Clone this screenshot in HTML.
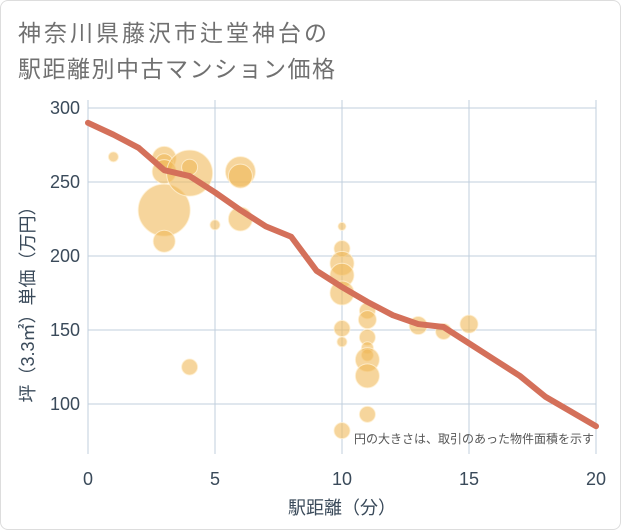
<!DOCTYPE html>
<html><head><meta charset="utf-8"><style>
body{margin:0;background:#fff;font-family:"Liberation Sans","Noto Sans CJK JP",sans-serif;}
#wrap{position:relative;width:619px;height:528px;border:1px solid #ddd;border-radius:8px;overflow:hidden;background:#fff}
.t{position:absolute;left:17px;font-size:23px;color:#707070;letter-spacing:2px}
</style></head><body>
<div id="wrap">
<div class="t" style="top:13px;letter-spacing:3px">神奈川県藤沢市辻堂神台の</div>
<div class="t" style="top:49px;letter-spacing:1.5px">駅距離別中古マンション価格</div>
<svg id="svg" width="621" height="530" style="position:absolute;left:-1px;top:-1px"></svg>
</div>
<script>
const xTicks=[0,5,10,15,20];
const yTicks=[100,150,200,250,300];
const bubX=[1,3,3,3,3,3,4,4,4,5,6,6,6,10,10,10,10,10,10,10,10,11,11,11,11,11,11,11,11,13,14,15];
const bubY=[267,266,263,257,231,210,256,260,125,221,257,254,225,220,205,195,187,175,151,142,82,163,157,145,138,133,130,119,93,153,149,154];
const bubR=[5,12,9,12,26,11,23,8,8,5,15,12,12,4,8,12,12,12,8,5,8,8,9,8,6,6,12,12,8,9,8,9];
const lineX=[0,1,2,3,4,5,6,7,8,9,10,11,12,13,14,15,16,17,18,19,20];
const lineY=[290,282,273,258,254,243,231,220,213,190,179,169,160,154,152,141,130,119,105,95,85];
const X=v=>88+v*25.4, Y=v=>108+(300-v)*1.48;
const svg=document.getElementById('svg'),NS='http://www.w3.org/2000/svg';
function mk(t,a,p){const e=document.createElementNS(NS,t);for(const k in a)e.setAttribute(k,a[k]);(p||svg).appendChild(e);return e;}
xTicks.forEach(v=>{const l=mk('line',{x1:X(v),x2:X(v),y1:100,y2:454,stroke:'#c0cfdd','stroke-width':1});

const t=mk('text',{x:X(v),y:485,'text-anchor':'middle','font-size':18,fill:'#3a4a5a'});t.textContent=v;
});
yTicks.forEach(v=>{const l=mk('line',{x1:88,x2:596,y1:Y(v),y2:Y(v),stroke:'#c0cfdd','stroke-width':1});

const t=mk('text',{x:80,y:Y(v)+6,'text-anchor':'end','font-size':18,fill:'#3a4a5a'});t.textContent=v;
});
bubX.forEach((v,i)=>{const c=mk('circle',{cx:X(v),cy:Y(bubY[i]),r:bubR[i],fill:'rgba(240,185,90,0.6)',stroke:'rgba(255,240,210,0.8)','stroke-width':1});
});
const p=mk('polyline',{points:lineX.map((v,i)=>X(v)+','+Y(lineY[i])).join(' '),fill:'none',stroke:'#d4705a','stroke-width':6,'stroke-linejoin':'round','stroke-linecap':'round'});

const n=mk('text',{x:594,y:443,'text-anchor':'end','font-size':12,fill:'#555'});n.textContent='円の大きさは、取引のあった物件面積を示す';

const xt=mk('text',{x:342,y:514,'text-anchor':'middle','font-size':18,fill:'#3a4a5a'});xt.textContent='駅距離（分）';

const yt=mk('text',{x:0,y:0,'text-anchor':'middle','font-size':18,fill:'#3a4a5a',transform:'translate(34,300) rotate(-90)'});yt.textContent='坪（3.3㎡）単価（万円）';

</script>
</body></html>
